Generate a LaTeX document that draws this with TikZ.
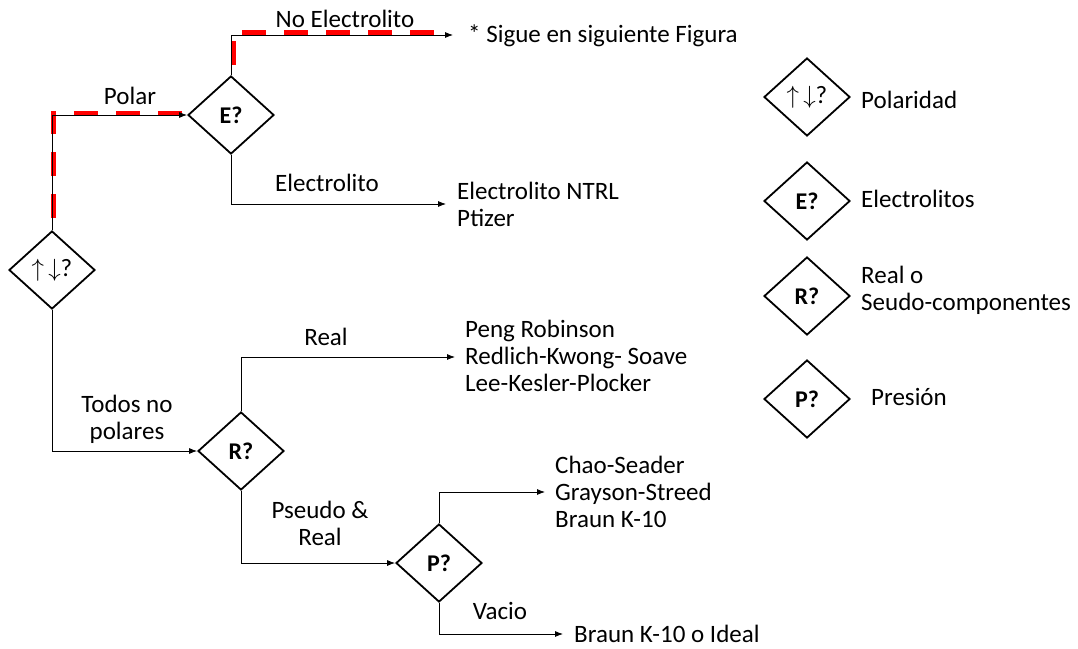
\documentclass[tikz,border=0pt]{standalone}
\usepackage{fontspec}
\setmainfont{Carlito}
\usetikzlibrary{shapes.geometric,arrows.meta,calc}
\newcommand{\polsym}{\fontsize{25}{25}\selectfont\mdseries$\uparrow\,\downarrow$?}
\begin{document}
\begin{tikzpicture}[x=1pt,y=-1pt,
  every node/.style={font=\fontsize{25}{27}\selectfont},
  dia/.style={draw,line width=1.8pt,shape=diamond,aspect=1.1,minimum width=86pt,minimum height=78pt,inner sep=0pt,font=\fontsize{24}{25}\selectfont\bfseries},
  conn/.style={line width=0.8pt,-{Latex[length=8pt,width=6pt]}},
  reddash/.style={red,line width=5pt,dash pattern=on 24pt off 18pt},
  lbl/.style={inner sep=1pt},
  txt/.style={anchor=west,align=left,inner sep=1pt}]
\useasboundingbox (0,0) rectangle (1078,648);
% decision diamonds
\node[dia] (d1) at (52,270) {\polsym};
\node[dia] (dE) at (231,115) {E?};
\node[dia] (dR) at (241,451) {R?};
\node[dia] (dP) at (439,563) {P?};
% arrow targets
\coordinate (aSigue) at (453,35);
\coordinate (aNTRL) at (446,204);
\coordinate (aPeng) at (455,357);
\coordinate (aChao) at (545,492);
\coordinate (aBraun) at (563,634);
% red highlight
\draw[reddash] ($(d1.north)+(1,-12)$) |- ($(dE.west)+(-2,-2)$);
\draw[reddash,dash phase=-6pt] ($(dE.north)+(2,-4)$) |- ($(aSigue)+(-13,-3)$);
% connectors
\draw[conn] (d1.north) |- (dE.west);
\draw[conn] (dE.north) |- (aSigue);
\draw[conn] (dE.south) |- (aNTRL);
\draw[conn] (d1.south) |- (dR.west);
\draw[conn] (dR.north) |- (aPeng);
\draw[conn] (dR.south) |- (dP.west);
\draw[conn] (dP.north) |- (aChao);
\draw[conn] (dP.south) |- (aBraun);
% branch labels
\node[lbl] (lPolar) at (130,96) {Polar};
\node[lbl] (lNoE) at (345,19) {No Electrolito};
\node[lbl] (lE) at (327,183) {Electrolito};
\node[lbl,align=center] (lTodos) at (127,419) {Todos no\\polares};
\node[lbl] (lReal) at (326,337) {Real};
\node[lbl,align=center] (lPseudo) at (320,523) {Pseudo \&\\Real};
\node[lbl] (lVacio) at (500,611) {Vacio};
% result texts
\node[txt] (tSigue) at (467,36) {* Sigue en siguiente Figura};
\node[txt] (tNTRL) at (456,204) {Electrolito NTRL\\Ptizer};
\node[txt] (tPeng) at (464,356) {Peng Robinson\\Redlich-Kwong- Soave\\Lee-Kesler-Plocker};
\node[txt] (tChao) at (554,492) {Chao-Seader\\Grayson-Streed\\Braun K-10};
\node[txt] (tBraun) at (573,634) {Braun K-10 o Ideal};
% legend
\node[dia] (g1) at (807,97) {\polsym};
\node[dia] (g2) at (807,201) {E?};
\node[dia] (g3) at (807,296) {R?};
\node[dia] (g4) at (807,399) {P?};
\node[txt] (t1) at (860,100) {Polaridad};
\node[txt] (t2) at (860,199) {Electrolitos};
\node[txt] (t3) at (860,290) {Real o\\Seudo-componentes};
\node[txt] (t4) at (870,397) {Presión};
\end{tikzpicture}
\end{document}
